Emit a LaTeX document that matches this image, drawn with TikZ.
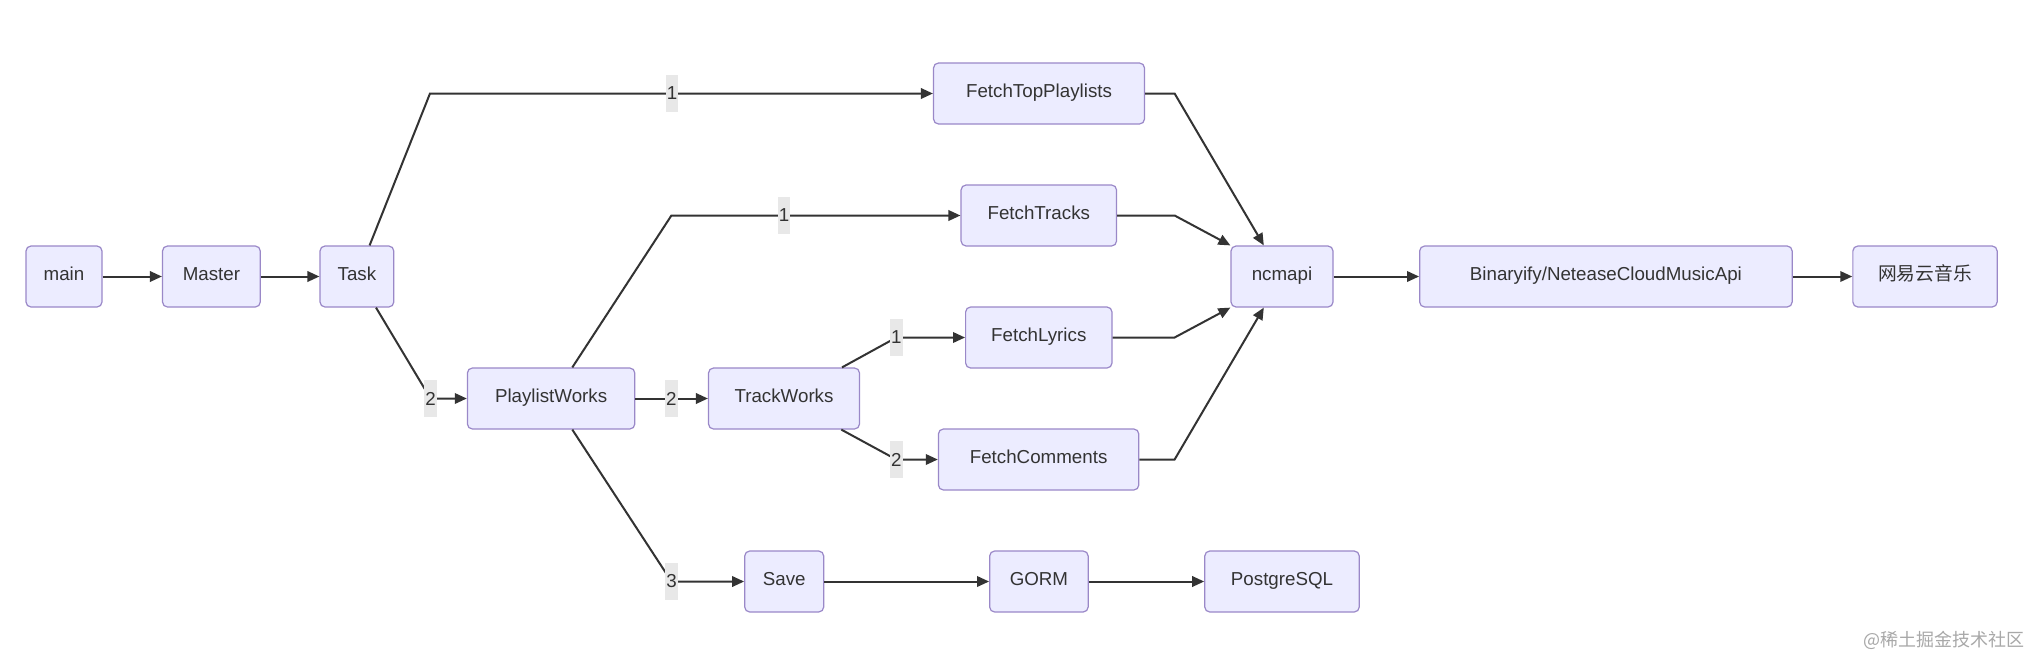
\documentclass[tikz,border=0pt]{standalone}
\usepackage{fontspec}
\setmainfont{Liberation Sans}
\newfontfamily\cjk{Noto Sans CJK SC}
\usetikzlibrary{arrows.meta}
\definecolor{nodefill}{HTML}{ECECFF}
\definecolor{nodeline}{HTML}{9A88C8}
\definecolor{edgecol}{HTML}{333333}
\definecolor{txt}{HTML}{333333}
\definecolor{lblbg}{HTML}{E8E8E8}
\definecolor{wm}{HTML}{A8A8A8}
\begin{document}
\begin{tikzpicture}[x=1pt,y=-1pt,
  box/.style={draw=nodeline, fill=nodefill, line width=1.2pt, rounded corners=5pt,
    minimum height=61pt, inner sep=0pt, text height=13.5pt, text depth=6pt,
    text=txt, font=\fontsize{18.75}{22}\selectfont},
  edge/.style={draw=edgecol, line width=2pt, -{Triangle[length=12pt,width=10.5pt]}},
  elabel/.style={fill=lblbg, inner xsep=1.2pt, inner ysep=0pt, minimum height=37.7pt,
    text=txt, font=\fontsize{18.75}{22}\selectfont}]
\useasboundingbox (0,0) rectangle (2044,670);
\fill[white] (0,0) rectangle (2044,670);

% nodes
\node[box, minimum width=76pt]    (main)   at (64,276.5)    {main};
\node[box, minimum width=97.8pt]  (master) at (211.4,276.5) {Master};
\node[box, minimum width=73.8pt]  (task)   at (356.9,276.5) {Task};
\node[box, minimum width=167.4pt] (pw)     at (551.1,398.5) {PlaylistWorks};
\node[box, minimum width=211pt]   (ftp)    at (1039,93.5)   {FetchTopPlaylists};
\node[box, minimum width=155.5pt] (ft)     at (1038.8,215.5) {FetchTracks};
\node[box, minimum width=146.4pt] (fl)     at (1038.8,337.5) {FetchLyrics};
\node[box, minimum width=151pt]   (tw)     at (784,398.5)   {TrackWorks};
\node[box, minimum width=200.4pt] (fc)     at (1038.6,459.5) {FetchComments};
\node[box, minimum width=102pt]   (nc)     at (1282,276.5)  {ncmapi};
\node[box, minimum width=372.5pt] (bin)    at (1605.9,276.5) {Binaryify/NeteaseCloudMusicApi};
\node[box, minimum width=144.3pt] (wy)     at (1925,276.5)  {\cjk 网易云音乐};
\node[box, minimum width=79pt]    (save)   at (784.2,581.5) {Save};
\node[box, minimum width=98.5pt]  (gorm)   at (1038.9,581.5) {GORM};
\node[box, minimum width=154.5pt] (pg)     at (1282,581.5)  {PostgreSQL};

% bend points
\coordinate (cA) at (430,93.5);
\coordinate (cB) at (430.5,398.5);
\coordinate (cC) at (671.4,215.5);
\coordinate (cD) at (671.5,581.5);
\coordinate (cE) at (896.4,337.5);
\coordinate (cF) at (896.3,459.5);
\coordinate (cG) at (1174.6,93.5);
\coordinate (cH) at (1174.6,215.5);
\coordinate (cI) at (1174.6,337.5);
\coordinate (cJ) at (1174.6,459.5);

% edges
\draw[edge] (main) -- (master);
\draw[edge] (master) -- (task);
\draw[edge] ([xshift=12.7pt]task.north) -- (cA) -- (ftp.west);
\draw[edge] ([xshift=19.1pt]task.south) -- (cB) -- (pw.west);
\draw[edge] ([xshift=21.2pt]pw.north) -- (cC) -- (ft.west);
\draw[edge] (pw) -- (tw);
\draw[edge] ([xshift=21.2pt]pw.south) -- (cD) -- (save.west);
\draw[edge] ([xshift=58pt]tw.north) -- (cE) -- (fl.west);
\draw[edge] ([xshift=57.3pt]tw.south) -- (cF) -- (fc.west);
\draw[edge] (ftp.east) -- (cG) -- ([xshift=-18.2pt]nc.north);
\draw[edge] (ft.east) -- (cH) -- (nc.north west);
\draw[edge] (fl.east) -- (cI) -- (nc.south west);
\draw[edge] (fc.east) -- (cJ) -- ([xshift=-18.2pt]nc.south);
\draw[edge] (nc) -- (bin);
\draw[edge] (bin) -- (wy);
\draw[edge] (save) -- (gorm);
\draw[edge] (gorm) -- (pg);

% edge labels
\node[elabel] (l1) at (672,93.5)    {1};
\node[elabel] (l2) at (430.5,398.5) {2};
\node[elabel] (l3) at (784,215.5)   {1};
\node[elabel] (l4) at (671.4,398.5) {2};
\node[elabel] (l5) at (671.5,581.5) {3};
\node[elabel] (l6) at (896.4,337.5) {1};
\node[elabel] (l7) at (896.3,459.5) {2};

% watermark
\node[text=wm, inner sep=0pt, anchor=east, font=\cjk\fontsize{18}{20}\selectfont] (wmk) at (2025,640) {@稀土掘金技术社区};
\end{tikzpicture}
\end{document}
